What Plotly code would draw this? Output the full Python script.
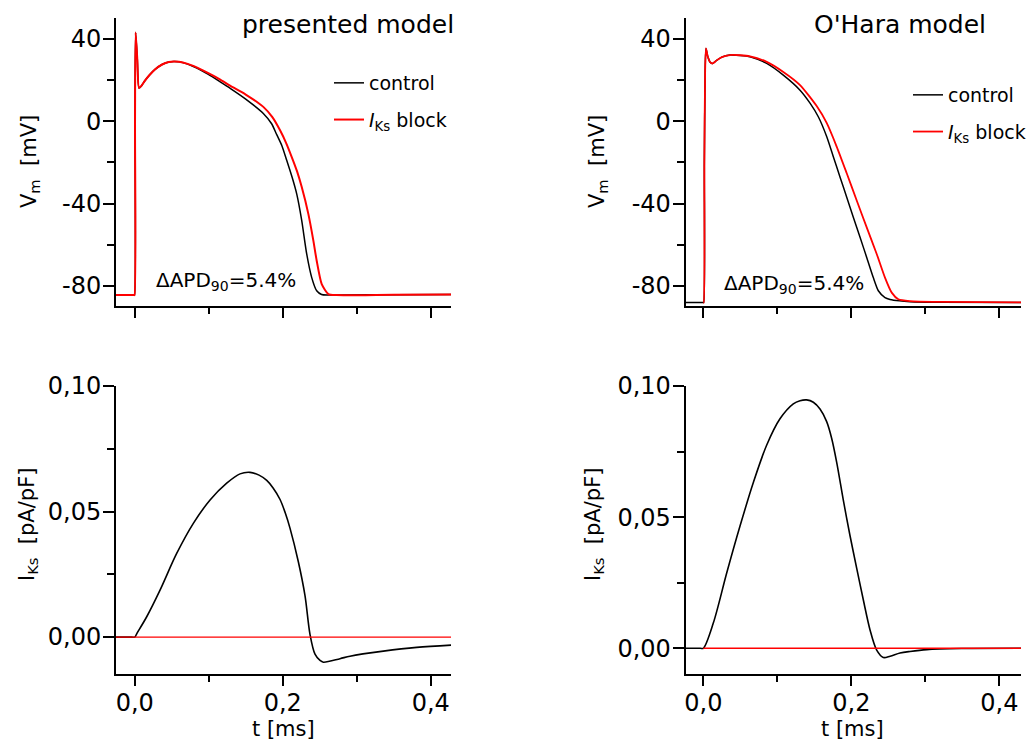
import plotly.graph_objects as go

# ---------------- data ----------------
# presented model, membrane potential (mV)
T_PM_CTRL = [-0.03, -0.001, -0.0003, 0.0004, 0.0012, 0.0035, 0.0058, 0.009, 0.0139, 0.02, 0.0274, 0.037,
             0.046, 0.054, 0.065, 0.08, 0.0995, 0.115, 0.13, 0.15, 0.1738, 0.185, 0.1919, 0.199,
             0.2054, 0.2125, 0.2189, 0.2257, 0.2324, 0.2392, 0.2459, 0.2525, 0.2595, 0.28, 0.35, 0.44]
V_PM_CTRL = [-84.5, -84.5, -84.5, 0, 43.1, 30, 16.2, 17.2, 19.8, 22.5, 25.2, 27.6,
             28.8, 29.0, 28.5, 26.5, 22.8, 19.3, 15.8, 10.8, 3.8, -1.2, -6.5, -12,
             -19, -27, -35.3, -48.3, -64.5, -76, -82.4, -84.2, -84.5, -84.4, -84.3, -84.2]

T_PM_BLOCK = [-0.03, -0.001, -0.0003, 0.0004, 0.0012, 0.0035, 0.0058, 0.009, 0.0139, 0.02, 0.0274, 0.037,
              0.046, 0.054, 0.065, 0.08, 0.0995, 0.115, 0.1288, 0.15, 0.1738, 0.186, 0.1964, 0.2045,
              0.2122, 0.2195, 0.2257, 0.2346, 0.2414, 0.2459, 0.2527, 0.2617, 0.2725, 0.35, 0.44]
V_PM_BLOCK = [-84.5, -84.5, -84.5, 0, 43.1, 30, 16.2, 17.2, 19.8, 22.5, 25.2, 27.6,
              28.8, 29.0, 28.6, 26.8, 23.4, 20.4, 17.3, 13.0, 7.0, 2.0, -4.4, -10.5,
              -17.4, -24.5, -32, -45, -58, -67.8, -79.2, -84, -84.5, -84.3, -84.2]

# O'Hara model, membrane potential (mV)
T_OH_CTRL = [-0.03, -0.0003, 0.0005, 0.0014, 0.0025, 0.0036, 0.006, 0.0095, 0.0127, 0.018, 0.025,
             0.036, 0.05, 0.0631, 0.0857, 0.1081, 0.1307, 0.1442, 0.1554, 0.1667, 0.1757, 0.1847,
             0.1938, 0.2027, 0.2118, 0.2208, 0.2297, 0.2365, 0.2455, 0.2523, 0.265, 0.2793, 0.32,
             0.44]
V_OH_CTRL = [-88.1, -88.1, -88.1, -20, 25, 35.4, 31.5, 28.6, 28.1, 29.6, 31.2,
             32.2, 32.0, 31.4, 28.1, 22.4, 15.1, 8.8, 2.2, -7.4, -17.2, -27.1,
             -36.9, -46.7, -56.4, -66.2, -76, -82.4, -85.7, -86.6, -87.3, -87.7, -88,
             -88.1]

T_OH_BLOCK = [0.0, 0.0005, 0.0014, 0.0025, 0.0036, 0.006, 0.0095, 0.0127, 0.018, 0.025,
              0.036, 0.05, 0.0631, 0.0857, 0.1081, 0.1307, 0.1532, 0.1667, 0.1802, 0.1938,
              0.2073, 0.2208, 0.2343, 0.2455, 0.2546, 0.2635, 0.2793, 0.32, 0.44]
V_OH_BLOCK = [-88.1, -88.1, -20, 25, 35.4, 31.5, 28.6, 28.1, 29.6, 31.2,
              32.2, 32.1, 31.6, 28.9, 24.0, 17.6, 7.4, -0.8, -12.3, -25.3,
              -38.5, -51.6, -64.5, -76, -83.3, -86.5, -87.4, -87.8, -88.1]

# I_Ks currents (pA/pF)
T_PM_IKS = [-0.03, -0.004, 0.0, 0.003, 0.0162, 0.0342, 0.0567, 0.0792, 0.1018, 0.1243, 0.1423,
            0.1558, 0.168, 0.1784, 0.187, 0.1964, 0.2035, 0.2099, 0.2211, 0.2301, 0.2369, 0.2436,
            0.2504, 0.2549, 0.2774, 0.2909, 0.336, 0.381, 0.44]
I_PM_IKS = [0, 0, 0, 0.0015, 0.0081, 0.0187, 0.0333, 0.0453, 0.0546, 0.0613, 0.0650,
            0.0656, 0.0645, 0.0624, 0.0594, 0.0548, 0.0494, 0.0433, 0.0300, 0.0165, 0.0010, -0.0068,
            -0.0093, -0.0100, -0.0086, -0.0076, -0.0056, -0.0041, -0.003]
T_PM_IKS_BLOCK = [-0.03, 0.44]
I_PM_IKS_BLOCK = [0, 0]

T_OH_IKS = [-0.03, -0.004, 0.0, 0.0135, 0.0316, 0.0496, 0.0676, 0.0857, 0.1036, 0.1216, 0.1307,
            0.1397, 0.1487, 0.1577, 0.1667, 0.1735, 0.1803, 0.1892, 0.1982, 0.2073, 0.2162, 0.2253,
            0.2343, 0.2432, 0.2525, 0.2658, 0.2793, 0.302, 0.35, 0.44]
I_OH_IKS = [0, 0, 0, 0.0096, 0.0287, 0.0466, 0.0632, 0.0775, 0.0875, 0.0932, 0.0944,
            0.0947, 0.0938, 0.0912, 0.0864, 0.0800, 0.0708, 0.0565, 0.0430, 0.0305, 0.0185, 0.007,
            -0.0007, -0.0035, -0.003, -0.0018, -0.0012, -0.0005, -0.0001, 0]
T_OH_IKS_BLOCK = [0.0, 0.44]
I_OH_IKS_BLOCK = [0, 0]

# ticks
T_TICKS = [0.0, 0.2, 0.4]
T_TICK_TEXT = ["0,0", "0,2", "0,4"]
T_MINOR = [0.1, 0.3]
V_TICKS = [-80, -40, 0, 40]
V_TICK_TEXT = ["-80", "-40", "0", "40"]
V_MINOR = [-60, -20, 20]
I_TICKS = [0.0, 0.05, 0.10]
I_TICK_TEXT = ["0,00", "0,05", "0,10"]
I_MINOR = [0.025, 0.075]

SERIES_NAMES = ["control", "<i>I</i><sub>Ks</sub> block"]

# ---------------- figure ----------------
W, H = 1031, 742
FONT = "DejaVu Sans, Verdana, sans-serif"
BLACK = "#000000"
RED = "#ff0000"


def px_x(p):
    return p / W


def px_y(p):
    return 1 - p / H


fig = go.Figure()


def ln(color, width, smooth):
    return dict(color=color, width=width, shape="spline", smoothing=smooth, simplify=False)


common = dict(mode="lines", hoverinfo="skip")

# top-left
fig.add_trace(go.Scatter(x=T_PM_CTRL, y=V_PM_CTRL, xaxis="x", yaxis="y", name=SERIES_NAMES[0],
                         line=ln(BLACK, 1.5, 0.6), legend="legend", legendgroup="a", **common))
fig.add_trace(go.Scatter(x=T_PM_BLOCK, y=V_PM_BLOCK, xaxis="x", yaxis="y", name=SERIES_NAMES[1],
                         line=ln(RED, 2, 0.6), legend="legend", legendgroup="b", **common))
# top-right
fig.add_trace(go.Scatter(x=T_OH_CTRL, y=V_OH_CTRL, xaxis="x2", yaxis="y2", name=SERIES_NAMES[0],
                         line=ln(BLACK, 1.5, 0.6), legend="legend2", legendgroup="c", **common))
fig.add_trace(go.Scatter(x=T_OH_BLOCK, y=V_OH_BLOCK, xaxis="x2", yaxis="y2", name=SERIES_NAMES[1],
                         line=ln(RED, 1.8, 0.6), legend="legend2", legendgroup="d", **common))
# bottom-left
fig.add_trace(go.Scatter(x=T_PM_IKS, y=I_PM_IKS, xaxis="x3", yaxis="y3", showlegend=False,
                         line=ln(BLACK, 1.6, 0.9), **common))
fig.add_trace(go.Scatter(x=T_PM_IKS_BLOCK, y=I_PM_IKS_BLOCK, xaxis="x3", yaxis="y3", showlegend=False,
                         line=dict(color=RED, width=1.4), **common))
# bottom-right
fig.add_trace(go.Scatter(x=T_OH_IKS, y=I_OH_IKS, xaxis="x4", yaxis="y4", showlegend=False,
                         line=ln(BLACK, 1.6, 0.9), **common))
fig.add_trace(go.Scatter(x=T_OH_IKS_BLOCK, y=I_OH_IKS_BLOCK, xaxis="x4", yaxis="y4", showlegend=False,
                         line=dict(color=RED, width=1.4), **common))

LEFT_DOM = [px_x(116), px_x(451)]
RIGHT_DOM = [px_x(685.7), px_x(1021)]
TOP_DOM = [px_y(306), px_y(18)]
BOT_DOM = [px_y(674), px_y(386)]

tickfont = dict(family=FONT, size=24, color=BLACK)


def xaxis(domain, anchor, rng, labels):
    return dict(domain=domain, anchor=anchor, range=rng, showline=True, linecolor=BLACK,
                linewidth=2, showgrid=False, zeroline=False, ticks="outside", ticklen=10,
                tickwidth=1.8, tickcolor=BLACK, tickmode="array", tickvals=T_TICKS,
                ticktext=T_TICK_TEXT, showticklabels=labels, tickfont=tickfont,
                ticklabelstandoff=-4,
                minor=dict(tickvals=T_MINOR, ticks="outside", ticklen=6, tickwidth=1.8,
                           tickcolor=BLACK, showgrid=False),
                fixedrange=True)


def yaxis(domain, anchor, rng, vals, text, minor):
    return dict(domain=domain, anchor=anchor, range=rng, showline=True, linecolor=BLACK,
                linewidth=2, showgrid=False, zeroline=False, ticks="outside", ticklen=11,
                tickwidth=1.8, tickcolor=BLACK, tickmode="array", tickvals=vals,
                ticktext=text, tickfont=tickfont, ticklabelstandoff=-3,
                minor=dict(tickvals=minor, ticks="outside", ticklen=7, tickwidth=1.8,
                           tickcolor=BLACK, showgrid=False),
                fixedrange=True)


legend_font = dict(family=FONT, size=19, color=BLACK)

fig.update_layout(
    width=W, height=H,
    margin=dict(l=0, r=0, t=0, b=0, autoexpand=False),
    paper_bgcolor="white", plot_bgcolor="white",
    font=dict(family=FONT, color=BLACK),
    xaxis=xaxis(LEFT_DOM, "y", [-0.0253, 0.4274], False),
    yaxis=yaxis(TOP_DOM, "x", [-89.8, 50.2], V_TICKS, V_TICK_TEXT, V_MINOR),
    xaxis2=xaxis(RIGHT_DOM, "y2", [-0.0238, 0.4293], False),
    yaxis2=yaxis(TOP_DOM, "x2", [-89.8, 50.2], V_TICKS, V_TICK_TEXT, V_MINOR),
    xaxis3=xaxis(LEFT_DOM, "y3", [-0.0253, 0.4274], True),
    yaxis3=yaxis(BOT_DOM, "x3", [-0.0147, 0.1], I_TICKS, I_TICK_TEXT, I_MINOR),
    xaxis4=xaxis(RIGHT_DOM, "y4", [-0.0238, 0.4293], True),
    yaxis4=yaxis(BOT_DOM, "x4", [-0.0098, 0.1], I_TICKS, I_TICK_TEXT, I_MINOR),
    legend=dict(x=px_x(329), y=px_y(64), xanchor="left", yanchor="top",
                font=legend_font, bgcolor="rgba(0,0,0,0)", tracegroupgap=9),
    legend2=dict(x=1.0, y=px_y(76), xanchor="right", yanchor="top",
                 font=legend_font, bgcolor="rgba(0,0,0,0)", tracegroupgap=9),
)

ann_font = dict(family=FONT, size=20, color=BLACK)
title_font = dict(family=FONT, size=25, color=BLACK)
axis_title_font = dict(family=FONT, size=21, color=BLACK)
annotations = [
    dict(text="presented model", x=px_x(456), y=px_y(24), xanchor="right", yanchor="middle",
         font=title_font),
    dict(text="O'Hara model", x=px_x(900), y=px_y(24), xanchor="center", yanchor="middle",
         font=title_font),
    dict(text="\u0394APD<sub>90</sub>=5.4%", x=px_x(154), y=px_y(281), xanchor="left",
         yanchor="middle", font=ann_font),
    dict(text="\u0394APD<sub>90</sub>=5.4%", x=px_x(722), y=px_y(284), xanchor="left",
         yanchor="middle", font=ann_font),
    dict(text="V<sub>m</sub>&nbsp; [mV]", x=px_x(30), y=px_y(162), textangle=-90,
         xanchor="center", yanchor="middle", font=axis_title_font),
    dict(text="V<sub>m</sub>&nbsp; [mV]", x=px_x(598), y=px_y(162), textangle=-90,
         xanchor="center", yanchor="middle", font=axis_title_font),
    dict(text="I<sub>Ks</sub>&nbsp; [pA/pF]", x=px_x(28), y=px_y(525), textangle=-90,
         xanchor="center", yanchor="middle", font=axis_title_font),
    dict(text="I<sub>Ks</sub>&nbsp; [pA/pF]", x=px_x(594), y=px_y(525), textangle=-90,
         xanchor="center", yanchor="middle", font=axis_title_font),
    dict(text="t [ms]", x=px_x(283), y=px_y(729), xanchor="center", yanchor="middle",
         font=axis_title_font),
    dict(text="t [ms]", x=px_x(852), y=px_y(729), xanchor="center", yanchor="middle",
         font=axis_title_font),
]
for a in annotations:
    a.update(xref="paper", yref="paper", showarrow=False)
fig.update_layout(annotations=annotations)

fig.write_html("out.html", config={"displayModeBar": False})
